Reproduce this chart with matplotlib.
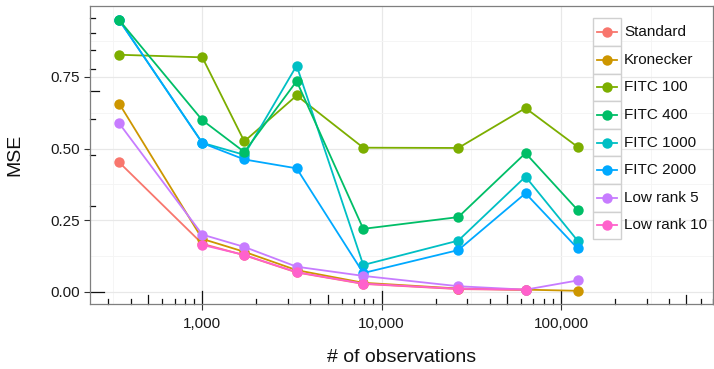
import matplotlib
matplotlib.use('Agg')
import matplotlib.pyplot as plt
import numpy as np
from matplotlib.patches import Rectangle
from matplotlib.lines import Line2D
from matplotlib.ticker import FixedLocator, FuncFormatter

plt.rcParams['font.family'] = ['Liberation Sans', 'DejaVu Sans']

# number of observations for each data set
n_obs = [344, 1000, 1715, 3357, 7894, 26730, 63370, 123600]

methods = ['Standard', 'Kronecker', 'FITC 100', 'FITC 400', 'FITC 1000',
           'FITC 2000', 'Low rank 5', 'Low rank 10']
colors = ['#F8766D', '#CD9600', '#7CAE00', '#00BE67', '#00BFC4',
          '#00A9FF', '#C77CFF', '#FF61CC']

# MSE per method (None = not run)
mse_standard = [0.452, 0.168, 0.128, 0.068, 0.028, 0.010, 0.007, None]
mse_kronecker = [0.657, 0.185, 0.140, 0.076, 0.032, 0.012, 0.008, 0.004]
mse_fitc100 = [0.827, 0.818, 0.525, 0.685, 0.503, 0.502, 0.641, 0.506]
mse_fitc400 = [0.948, 0.599, 0.488, 0.735, 0.220, 0.261, 0.484, 0.286]
mse_fitc1000 = [0.948, 0.520, 0.478, 0.789, 0.094, 0.179, 0.402, 0.179]
mse_fitc2000 = [0.948, 0.519, 0.462, 0.431, 0.066, 0.146, 0.344, 0.152]
mse_lowrank5 = [0.588, 0.200, 0.157, 0.088, 0.056, 0.020, 0.008, 0.040]
mse_lowrank10 = [None, 0.164, 0.129, 0.069, 0.029, 0.011, 0.008, None]

series = [mse_standard, mse_kronecker, mse_fitc100, mse_fitc400,
          mse_fitc1000, mse_fitc2000, mse_lowrank5, mse_lowrank10]
draw_order = [0, 1, 2, 4, 5, 3, 6, 7]

fig = plt.figure(figsize=(7.14, 3.69), dpi=100)
# panel in pixels: x 90..713, y 6..304
W, H = 714, 369
pl, pr, pt, pb = 90, 713, 6, 304
ax = fig.add_axes([pl / W, 1 - pb / H, (pr - pl) / W, (pb - pt) / H])

for i in draw_order:
    xs = [x for x, v in zip(n_obs, series[i]) if v is not None]
    ys = [v for v in series[i] if v is not None]
    ax.plot(xs, ys, '-o', color=colors[i], lw=1.3, markersize=7.5,
            markeredgewidth=0, zorder=3 + draw_order.index(i) * 0.1)

ax.set_xscale('log')
ax.set_xlim(236.6, 703000)
ax.set_ylim(-0.042, 0.997)

# grid
for v in [1e3, 1e4, 1e5]:
    ax.axvline(v, color='#E8E8E8', lw=0.9, zorder=0)
for v in [10 ** 2.5, 10 ** 3.5, 10 ** 4.5, 10 ** 5.5]:
    ax.axvline(v, color='#F4F4F4', lw=0.6, zorder=0)
for v in [0, 0.25, 0.5, 0.75]:
    ax.axhline(v, color='#E8E8E8', lw=0.9, zorder=0)
for v in [0.125, 0.375, 0.625, 0.875]:
    ax.axhline(v, color='#F4F4F4', lw=0.6, zorder=0)

# ticks and labels
ax.xaxis.set_major_locator(FixedLocator([1e3, 1e4, 1e5]))
ax.xaxis.set_minor_locator(FixedLocator([]))
ax.xaxis.set_major_formatter(FuncFormatter(lambda v, p: f'{v:,.0f}'))
ax.yaxis.set_major_locator(FixedLocator([0, 0.25, 0.5, 0.75]))
ax.yaxis.set_major_formatter(FuncFormatter(lambda v, p: f'{v:.2f}'))
ax.tick_params(axis='both', length=4, width=0.8, color='#333333',
               labelsize=11, labelcolor='#1a1a1a')
ax.tick_params(axis='x', pad=5)
ax.tick_params(axis='y', pad=3)
for s in ax.spines.values():
    s.set_color('#7F7F7F')
    s.set_linewidth(0.9)

# log ticks inside the panel (bottom and left)
ph = pb - pt
pw = pr - pl
tick_len = {1: 13.5, 5: 9, 0: 5}
for d in range(2, 6):
    for k in range(1, 10):
        v = k * 10 ** d
        if 236.6 < v < 703000:
            L = tick_len[1] if k == 1 else (tick_len[5] if k == 5 else tick_len[0])
            ax.plot([v, v], [0, L / ph], color='#111111', lw=0.9,
                    transform=ax.get_xaxis_transform(), clip_on=False, zorder=2)
for k in range(1, 11):
    v = np.log10(k)
    if -0.042 < v < 0.997:
        L = tick_len[1] if k in (1, 10) else (tick_len[5] if k == 5 else tick_len[0])
        ax.plot([0, L / pw], [v, v], color='#111111', lw=0.9,
                transform=ax.get_yaxis_transform(), clip_on=False, zorder=2)

ax.set_xlabel('# of observations', fontsize=14, color='#111111', va='center')
ax.xaxis.set_label_coords(0.5, (pb - 357) / ph)
ax.set_ylabel('MSE', fontsize=14, color='#111111', va='center')
ax.yaxis.set_label_coords((15 - pl) / pw, 0.5)

# legend drawn as ggplot style key boxes
key_l, key_w, key_top, key_h = 592.7, 28, 18.3, 27.6
for i, name in enumerate(methods):
    y0 = key_top + i * key_h
    ax.add_patch(Rectangle(((key_l - pl) / pw, (pb - y0 - key_h) / ph),
                           key_w / pw, key_h / ph, transform=ax.transAxes,
                           facecolor='white', edgecolor='#D0D0D0', lw=1.0,
                           zorder=5, clip_on=False))
    yc = (pb - y0 - key_h / 2) / ph
    ax.add_line(Line2D([(key_l + 4 - pl) / pw, (key_l + key_w - 4 - pl) / pw],
                       [yc, yc], transform=ax.transAxes, color=colors[i],
                       lw=1.3, zorder=6))
    ax.plot([(key_l + key_w / 2 - pl) / pw], [yc], 'o', color=colors[i],
            markersize=7.5, markeredgewidth=0, transform=ax.transAxes,
            zorder=7, clip_on=False)
    ax.text((key_l + key_w + 3.5 - pl) / pw, yc, name, transform=ax.transAxes,
            fontsize=11, va='center', ha='left', color='#111111', zorder=7)

fig.savefig('out.png', dpi=100)
